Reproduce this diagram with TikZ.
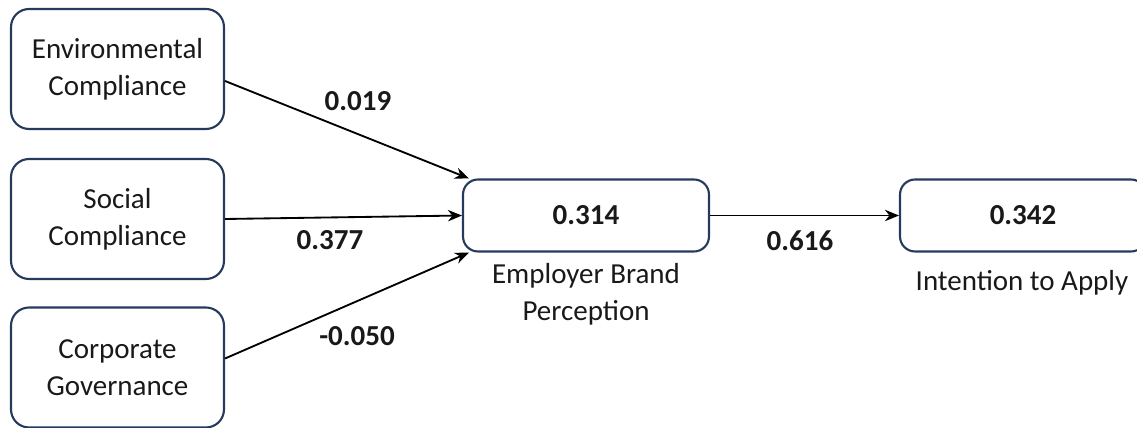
\documentclass[tikz,border=0pt]{standalone}
\usepackage{fontspec}
\setmainfont{Carlito}
\usepackage{tikz}
\usepackage{xcolor}
\usetikzlibrary{calc, arrows.meta, positioning}

\definecolor{boxline}{RGB}{38,58,94}
\definecolor{inktext}{RGB}{25,25,25}

\begin{document}
\begin{tikzpicture}[x=0.02cm, y=-0.02cm,
    every node/.style={text=inktext, font=\fontsize{16.5}{21}\selectfont},
    construct/.style={draw=boxline, line width=1.2pt, rounded corners=0.36cm,
                      minimum width=4.26cm, minimum height=2.4cm, align=center},
    latent/.style={draw=boxline, line width=1.2pt, rounded corners=0.3cm,
                   minimum width=4.92cm, minimum height=1.44cm,
                   font=\fontsize{16.5}{21}\selectfont\bfseries},
    path/.style={-{Stealth[length=8pt, width=6.5pt]}, line width=1.05pt, black},
    coef/.style={font=\fontsize{16.5}{21}\selectfont\bfseries}]
  \useasboundingbox (0,0) rectangle (1137,428);
  % Exogenous constructs
  \node[construct] (env) at (117.5,69)    {Environmental\\Compliance};
  \node[construct] (soc) at (117.5,219)   {Social\\Compliance};
  \node[construct] (gov) at (117.5,367.5) {Corporate\\Governance};
  % Endogenous constructs (R squared inside)
  \node[latent] (ebp) at (586,215.5)  {0.314};
  \node[latent] (ita) at (1023,215.5) {0.342};
  \node[align=center] (ebplab) at (586,294.5) {Employer Brand\\Perception};
  \node (italab) at (1022,283) {Intention to Apply};
  % Paths
  \draw[path] ([yshift=-0.24cm]env.east) -- ([xshift=0.14cm]ebp.north west);
  \draw[path] (soc.east) -- (ebp.west);
  \draw[path] ([yshift=0.18cm]gov.east) -- ([xshift=0.14cm]ebp.south west);
  \draw[path] (ebp.east) -- (ita.west);
  % Path coefficients
  \node[coef] (c1) at (358,101) {0.019};
  \node[coef] (c2) at (330,240) {0.377};
  \node[coef] (c3) at (357,336) {-0.050};
  \node[coef] (c4) at (800,241) {0.616};
\end{tikzpicture}
\end{document}
